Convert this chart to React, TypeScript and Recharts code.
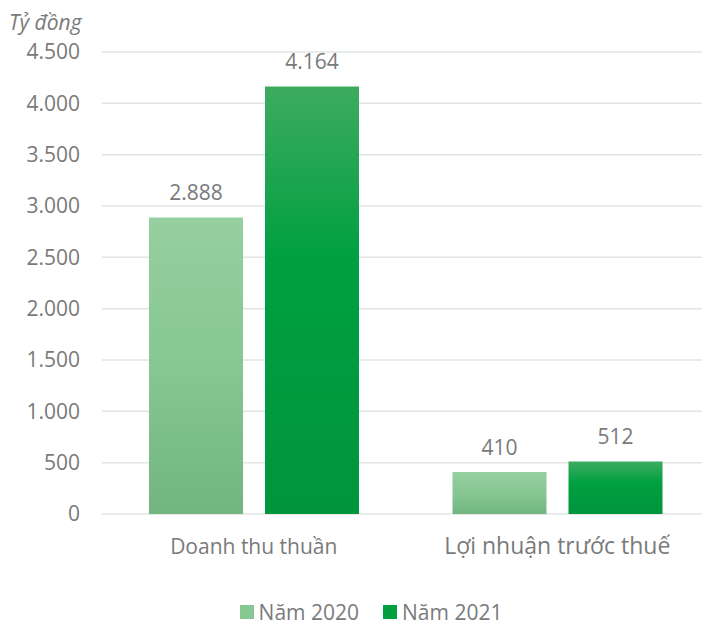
import React from "react";
import {
  BarChart,
  Bar,
  XAxis,
  YAxis,
  CartesianGrid,
  Legend,
  LabelList,
} from "recharts";

const categories = ["Doanh thu thuần", "Lợi nhuận trước thuế"];
const nam2020 = [2888, 410];
const nam2021 = [4164, 512];
const yTicks = [0, 500, 1000, 1500, 2000, 2500, 3000, 3500, 4000, 4500];

const chartData = categories.map((name, i) => ({
  name,
  y2020: nam2020[i],
  y2021: nam2021[i],
}));

const FONT = "'Open Sans', 'Noto Sans', sans-serif";
const GRAY = "#7a7a7a";
// second category label is drawn a bit larger in the original
const catFontSize = [21, 23];

const fmt = (v: any) =>
  Number(v)
    .toString()
    .replace(/\B(?=(\d{3})+(?!\d))/g, ".");

const legendItems = [
  { label: "Năm 2020", color: "#86c792" },
  { label: "Năm 2021", color: "#00a040" },
];

const LegendContent = () => (
  <div
    style={{
      height: 61,
      display: "flex",
      justifyContent: "center",
      alignItems: "flex-end",
      boxSizing: "border-box",
      fontFamily: FONT,
      fontSize: 21,
      lineHeight: "24px",
      color: GRAY,
      paddingLeft: 40,
      paddingBottom: 1,
    }}
  >
    {legendItems.map((it) => (
      <div
        key={it.label}
        style={{ display: "flex", alignItems: "center", margin: "0 12px" }}
      >
        <span
          style={{
            width: 14,
            height: 14,
            background: it.color,
            display: "inline-block",
            marginRight: 5,
          }}
        />
        <span>{it.label}</span>
      </div>
    ))}
  </div>
);

const CatTick = (props: any) => {
  const { x, y, payload, index } = props;
  return (
    <text
      x={x}
      y={y}
      dy={26}
      textAnchor="middle"
      fill={GRAY}
      fontSize={catFontSize[index] || 21}
      fontFamily={FONT}
    >
      {payload.value}
    </text>
  );
};

export default function App() {
  return (
    <div
      style={{
        position: "absolute",
        left: 0,
        top: 0,
        width: 702,
        height: 625,
        overflow: "hidden",
        background: "#fff",
      }}
    >
      <BarChart
        width={709}
        height={625}
        data={chartData}
        margin={{ top: 52, right: 0, left: 0, bottom: 0 }}
        barSize={94}
        barGap={22}
      >
        <defs>
          <linearGradient id="g2020" x1="0" y1="0" x2="0" y2="1">
            <stop offset="0%" stopColor="#96cfa0" />
            <stop offset="50%" stopColor="#86c792" />
            <stop offset="100%" stopColor="#72b57f" />
          </linearGradient>
          <linearGradient id="g2021" x1="0" y1="0" x2="0" y2="1">
            <stop offset="0%" stopColor="#3dab60" />
            <stop offset="40%" stopColor="#00a040" />
            <stop offset="100%" stopColor="#00953c" />
          </linearGradient>
        </defs>
        <CartesianGrid
          vertical={false}
          stroke="#dfe5e3"
          strokeWidth={1.5}
        />
        <XAxis
          dataKey="name"
          axisLine={false}
          tickLine={false}
          tickSize={0}
          tickMargin={14}
          height={50}
          tick={<CatTick />}
        />
        <YAxis
          width={102}
          domain={[0, 4500]}
          ticks={yTicks}
          interval={0}
          axisLine={false}
          tickLine={false}
          tickSize={0}
          tickMargin={22}
          tickFormatter={fmt}
          tick={{ fill: GRAY, fontSize: 21, fontFamily: FONT }}
          label={{
            content: () => (
              <text
                x={9}
                y={30}
                fill={GRAY}
                fontSize={21}
                fontStyle="italic"
                fontFamily={FONT}
              >
                Tỷ đồng
              </text>
            ),
          }}
        />
        <Legend
          verticalAlign="bottom"
          content={() => <LegendContent />}
          wrapperStyle={{ width: 702, left: 0 }}
        />
        <Bar
          dataKey="y2020"
          name="Năm 2020"
          fill="url(#g2020)"
          isAnimationActive={false}
        >
          <LabelList
            dataKey="y2020"
            position="top"
            offset={17}
            formatter={fmt}
            style={{ fill: GRAY, fontSize: 21, fontFamily: FONT }}
          />
        </Bar>
        <Bar
          dataKey="y2021"
          name="Năm 2021"
          fill="url(#g2021)"
          isAnimationActive={false}
        >
          <LabelList
            dataKey="y2021"
            position="top"
            offset={17}
            formatter={fmt}
            style={{ fill: GRAY, fontSize: 21, fontFamily: FONT }}
          />
        </Bar>
      </BarChart>
    </div>
  );
}
